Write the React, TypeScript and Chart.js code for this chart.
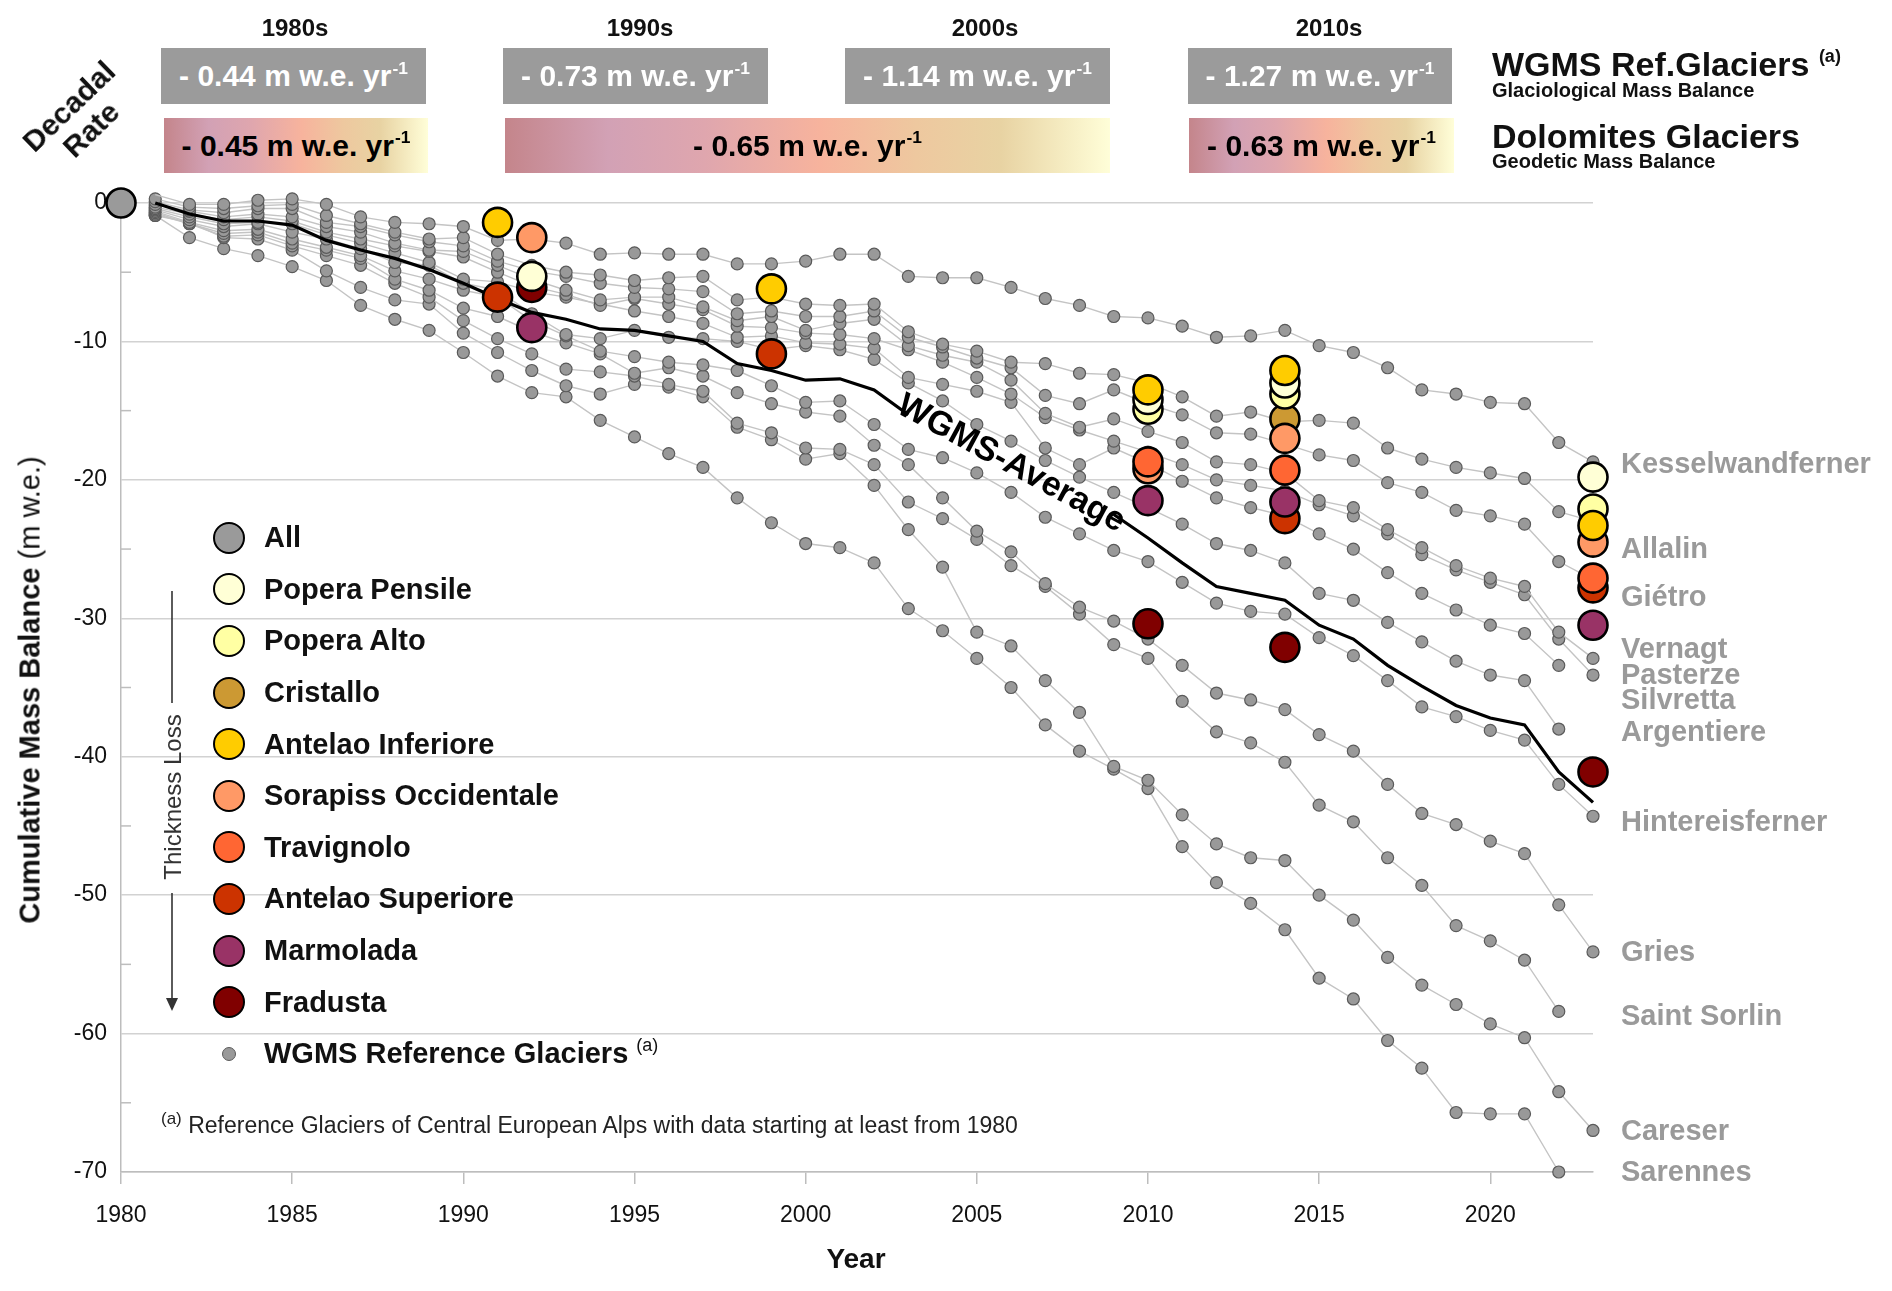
import React, { useEffect, useRef } from "react";
import { Chart, registerables } from "chart.js";

Chart.register(...registerables);

const FONT = "'Liberation Sans', Arial, Helvetica, sans-serif";

// ---------- axes ----------
const xTickValues = [1980, 1985, 1990, 1995, 2000, 2005, 2010, 2015, 2020];
const yTickValues = [-70, -65, -60, -55, -50, -45, -40, -35, -30, -25, -20, -15, -10, -5, 0];
const yMinorTickValues = [-65, -55, -45, -35, -25, -15, -5];

// ---------- WGMS reference glaciers (cumulative m w.e.) ----------
const refYears = [1981, 1982, 1983, 1984, 1985, 1986, 1987, 1988, 1989, 1990, 1991, 1992, 1993, 1994, 1995, 1996, 1997, 1998, 1999, 2000, 2001, 2002, 2003, 2004, 2005, 2006, 2007, 2008, 2009, 2010, 2011, 2012, 2013, 2014, 2015, 2016, 2017, 2018, 2019, 2020, 2021, 2022, 2023];

const kesselwandferner = [0.6, -0.1, -0.1, 0.2, 0.3, -0.1, -1.0, -1.4, -1.5, -1.7, -2.7, -2.6, -2.9, -3.7, -3.6, -3.7, -3.7, -4.4, -4.4, -4.2, -3.7, -3.7, -5.3, -5.4, -5.4, -6.1, -6.9, -7.4, -8.2, -8.3, -8.9, -9.7, -9.6, -9.2, -10.3, -10.8, -11.9, -13.5, -13.8, -14.4, -14.5, -17.3, -18.7];
const allalin = [0.3, -0.3, -0.4, -0.2, -0.1, -0.9, -1.5, -2.1, -2.6, -2.5, -3.7, -4.5, -5.0, -5.2, -5.6, -5.4, -5.3, -7.0, -6.8, -7.3, -7.4, -7.3, -9.3, -10.2, -10.7, -11.5, -11.6, -12.3, -12.4, -13.0, -14.0, -15.4, -15.1, -15.8, -15.7, -15.9, -17.7, -18.5, -19.1, -19.5, -19.9, -22.3, -23.0];
const gietro = [0.1, -0.5, -0.7, -0.4, -0.4, -1.4, -1.7, -2.3, -2.8, -3.1, -4.2, -4.9, -5.3, -5.8, -6.1, -6.2, -6.4, -8.0, -7.8, -8.2, -8.2, -7.8, -9.7, -10.4, -11.2, -11.9, -13.9, -14.5, -13.5, -14.5, -15.3, -16.6, -16.7, -17.4, -18.2, -18.6, -20.2, -20.9, -22.2, -22.6, -23.2, -25.9, -27.2];
const vernagt = [-0.1, -0.6, -1.0, -0.8, -1.0, -1.7, -2.1, -2.9, -3.4, -3.5, -4.5, -5.5, -6.3, -7.0, -6.8, -6.8, -7.5, -8.5, -8.2, -9.2, -8.7, -8.4, -10.3, -11.0, -11.5, -12.8, -15.2, -16.2, -15.6, -16.5, -17.3, -18.7, -18.9, -19.5, -21.5, -22.0, -23.6, -24.9, -26.2, -27.1, -27.7, -31.0, -32.9];
const pasterze = [-0.3, -0.8, -1.2, -1.0, -1.3, -2.1, -2.6, -3.1, -3.5, -3.9, -5.0, -6.0, -6.6, -7.4, -6.9, -7.3, -7.7, -8.9, -9.0, -9.4, -9.5, -9.8, -10.6, -11.5, -12.6, -13.8, -15.5, -16.4, -17.2, -18.0, -18.9, -20.0, -20.4, -20.8, -21.8, -22.6, -23.9, -25.4, -26.5, -27.4, -28.3, -31.5, -34.1];
const silvretta = [-0.4, -1.0, -1.5, -1.4, -1.5, -2.3, -2.9, -3.6, -4.3, -5.5, -5.7, -6.4, -6.8, -7.3, -7.8, -8.2, -8.7, -9.7, -9.6, -10.1, -10.2, -10.5, -12.6, -13.1, -13.6, -14.4, -17.7, -18.9, -17.7, -18.8, -20.1, -21.3, -22.0, -22.6, -23.9, -25.0, -26.7, -28.2, -29.4, -30.5, -31.1, -33.4, null];
const argentiere = [-0.5, -1.2, -1.7, -1.5, -2.1, -2.6, -3.3, -4.3, -4.5, -5.8, -6.3, -8.0, -9.5, -9.8, -9.2, -9.7, -9.8, -10.0, -10.6, -10.3, -10.6, -11.3, -13.0, -14.3, -16.0, -17.2, -18.6, -19.8, -20.9, -22.0, -23.2, -24.6, -25.1, -26.0, -28.2, -28.7, -30.3, -31.7, -33.1, -34.1, -34.5, -38.0, null];
const hintereisferner = [-0.6, -1.4, -2.0, -1.9, -2.6, -3.2, -3.8, -4.9, -5.5, -6.3, -6.8, -8.5, -9.6, -10.7, -11.1, -11.5, -11.7, -12.1, -13.2, -14.4, -14.3, -16.0, -17.8, -18.4, -19.5, -20.9, -22.7, -23.9, -25.1, -25.9, -27.4, -28.9, -29.5, -29.7, -31.4, -32.7, -34.5, -36.4, -37.1, -38.1, -38.8, -42.0, -44.3];
const gries = [-0.7, -1.5, -2.2, -2.1, -2.9, -3.4, -4.0, -5.5, -6.3, -7.6, -8.2, -9.3, -10.1, -10.9, -12.3, -11.9, -12.5, -13.7, -14.5, -15.1, -15.4, -17.5, -18.9, -21.3, -23.7, -25.2, -27.5, -29.2, -30.2, -31.5, -33.4, -35.4, -35.9, -36.6, -38.4, -39.6, -42.0, -44.1, -44.9, -46.1, -47.0, -50.7, -54.1];
const saintSorlin = [-0.8, -1.5, -2.4, -2.3, -3.1, -3.8, -4.5, -5.8, -6.8, -8.5, -9.8, -10.9, -12.0, -12.2, -12.5, -13.1, -13.6, -15.9, -16.6, -17.7, -17.8, -18.9, -21.6, -22.8, -24.3, -26.2, -27.7, -29.7, -31.9, -32.9, -36.0, -38.2, -39.0, -40.4, -43.5, -44.7, -47.3, -49.3, -52.2, -53.3, -54.7, -58.4, null];
const careser = [-0.9, -1.4, -2.5, -2.6, -3.4, -4.9, -6.1, -7.0, -7.3, -9.4, -10.8, -12.1, -13.2, -13.8, -13.1, -13.3, -14.0, -16.2, -17.1, -18.5, -18.1, -20.4, -23.6, -26.3, -31.0, -32.0, -34.5, -36.8, -40.7, -41.7, -44.2, -46.3, -47.3, -47.5, -50.0, -51.8, -54.5, -56.5, -57.9, -59.3, -60.3, -64.2, -67.0];
const sarennes = [-0.9, -2.5, -3.3, -3.8, -4.6, -5.6, -7.4, -8.4, -9.2, -10.8, -12.5, -13.7, -14.0, -15.7, -16.9, -18.1, -19.1, -21.3, -23.1, -24.6, -24.9, -26.0, -29.3, -30.9, -32.9, -35.0, -37.7, -39.6, -40.9, -42.3, -46.5, -49.1, -50.6, -52.5, -56.0, -57.5, -60.5, -62.5, -65.7, -65.8, -65.8, -70.0, null];

const wgmsAverage = [0.0, -0.8, -1.3, -1.3, -1.6, -2.7, -3.4, -4.0, -4.8, -5.8, -6.9, -7.9, -8.4, -9.1, -9.2, -9.6, -10.0, -11.6, -12.1, -12.8, -12.7, -13.5, -15.3, -16.2, -17.3, -18.7, -20.0, -21.2, -22.5, -24.2, -26.0, -27.7, -28.2, -28.7, -30.5, -31.5, -33.4, -34.9, -36.3, -37.2, -37.7, -41.1, -43.3];

const refSeries = [kesselwandferner, allalin, gietro, vernagt, pasterze, silvretta, argentiere, hintereisferner, gries, saintSorlin, careser, sarennes];

// right-hand glacier labels (anchored in data units)
const glacierLabelNames = ["Kesselwandferner", "Allalin", "Giétro", "Vernagt", "Pasterze", "Silvretta", "Argentiere", "Hintereisferner", "Gries", "Saint Sorlin", "Careser", "Sarennes"];
const glacierLabelValues = [-18.9, -25.1, -28.5, -32.3, -34.2, -36.0, -38.3, -44.8, -54.2, -58.8, -67.1, -70.1];

// where the "WGMS-Average" label sits on the average line
const avgLabelFrom = 2002;
const avgLabelTo = 2010;
const avgHiddenFrom = 2003;
const avgHiddenTo = 2009;

// ---------- Dolomites glaciers (geodetic) ----------
const allYears = [1980];
const allValues = [0];
const poperaPensileYears = [1992, 2010, 2014, 2023];
const poperaPensileValues = [-5.3, -14.2, -13.0, -19.8];
const poperaAltoYears = [2010, 2014, 2023];
const poperaAltoValues = [-14.9, -13.8, -22.1];
const cristalloYears = [2014];
const cristalloValues = [-15.6];
const antelaoInfYears = [1991, 1999, 2010, 2014, 2023];
const antelaoInfValues = [-1.4, -6.2, -13.5, -12.1, -23.3];
const sorapissYears = [1992, 2010, 2014, 2023];
const sorapissValues = [-2.5, -19.2, -17.0, -24.5];
const travignoloYears = [2010, 2014, 2023];
const travignoloValues = [-18.7, -19.3, -27.1];
const antelaoSupYears = [1991, 1999, 2014, 2023];
const antelaoSupValues = [-6.8, -10.9, -22.8, -27.8];
const marmoladaYears = [1992, 2010, 2014, 2023];
const marmoladaValues = [-9.0, -21.5, -21.6, -30.5];
const fradustaYears = [1992, 2010, 2014, 2023];
const fradustaValues = [-6.1, -30.4, -32.1, -41.1];

const dolomiteNames = ["All", "Popera Pensile", "Popera Alto", "Cristallo", "Antelao Inferiore", "Sorapiss Occidentale", "Travignolo", "Antelao Superiore", "Marmolada", "Fradusta"];
const dolomiteColors = ["#9a9a9a", "#FFFFD6", "#FFFFA3", "#CC9933", "#FFCC00", "#FF9966", "#FF6633", "#CC3300", "#993366", "#800000"];
const dolomiteYears = [allYears, poperaPensileYears, poperaAltoYears, cristalloYears, antelaoInfYears, sorapissYears, travignoloYears, antelaoSupYears, marmoladaYears, fradustaYears];
const dolomiteValues = [allValues, poperaPensileValues, poperaAltoValues, cristalloValues, antelaoInfValues, sorapissValues, travignoloValues, antelaoSupValues, marmoladaValues, fradustaValues];
const dolomiteDrawOrder = [0, 2, 3, 7, 1, 6, 5, 8, 4, 9];

// ---------- decadal rates ----------
const decades = ["1980s", "1990s", "2000s", "2010s"];
const wgmsRates = ["- 0.44", "- 0.73", "- 1.14", "- 1.27"];
const dolomiteRates = ["- 0.45", "- 0.65", "- 0.63"];

const annotationPlugin = {
  id: "glacierAnnotations",
  beforeDatasetsDraw(chart: any) {
    const { ctx, chartArea, scales } = chart;
    const y = scales.y;
    ctx.save();
    ctx.strokeStyle = "#bdbdbd";
    ctx.lineWidth = 1.5;
    yMinorTickValues.forEach((v) => {
      const py = y.getPixelForValue(v);
      ctx.beginPath();
      ctx.moveTo(chartArea.left, py);
      ctx.lineTo(chartArea.left + 10, py);
      ctx.stroke();
    });
    ctx.restore();
  },
  afterDatasetsDraw(chart: any) {
    const { ctx, chartArea, scales } = chart;
    const x = scales.x;
    const y = scales.y;
    ctx.save();
    ctx.font = `bold 29px ${FONT}`;
    ctx.fillStyle = "#9a9a9a";
    ctx.textAlign = "left";
    ctx.textBaseline = "middle";
    glacierLabelNames.forEach((n, i) => {
      ctx.fillText(n, chartArea.right + 28, y.getPixelForValue(glacierLabelValues[i]));
    });
    const i0 = refYears.indexOf(avgLabelFrom);
    const i1 = refYears.indexOf(avgLabelTo);
    const x0 = x.getPixelForValue(avgLabelFrom);
    const y0 = y.getPixelForValue(wgmsAverage[i0]);
    const x1 = x.getPixelForValue(avgLabelTo);
    const y1 = y.getPixelForValue(wgmsAverage[i1]);
    ctx.translate((x0 + x1) / 2, (y0 + y1) / 2);
    ctx.rotate(Math.atan2(y1 - y0, x1 - x0));
    ctx.font = `bold 34px ${FONT}`;
    ctx.fillStyle = "#000";
    ctx.textAlign = "center";
    ctx.textBaseline = "middle";
    ctx.fillText("WGMS-Average", 0, 0);
    ctx.restore();
  },
};

function buildDatasets() {
  const ds: any[] = [];
  dolomiteNames.forEach((name, k) => {
    ds.push({
      label: name,
      data: dolomiteYears[k].map((yr, i) => ({ x: yr, y: dolomiteValues[k][i] })),
      showLine: false,
      pointRadius: 14.5,
      pointBackgroundColor: dolomiteColors[k],
      pointBorderColor: "#000",
      pointBorderWidth: 2.6,
      clip: false,
      order: dolomiteDrawOrder[k],
    });
  });
  ds.push({
    label: "WGMS-Average",
    data: refYears.map((yr, i) => ({ x: yr, y: wgmsAverage[i] })),
    borderColor: "#000",
    borderWidth: 3.2,
    pointRadius: 0,
    clip: false,
    order: 50,
    segment: {
      borderColor: (c: any) =>
        c.p0.parsed.x >= avgHiddenFrom && c.p1.parsed.x <= avgHiddenTo ? "rgba(0,0,0,0)" : undefined,
    },
  });
  refSeries.forEach((vals, k) => {
    ds.push({
      label: glacierLabelNames[k],
      data: refYears.map((yr, i) => ({ x: yr, y: vals[i] })),
      borderColor: "#c4c4c4",
      borderWidth: 1.4,
      pointRadius: 6,
      pointBackgroundColor: "#999999",
      pointBorderColor: "#5a5a5a",
      pointBorderWidth: 1.2,
      clip: false,
      order: 100 + k,
    });
  });
  return ds;
}

const sup = (t: string, size = "0.58em") => (
  <span style={{ fontSize: size, position: "relative", top: "-0.7em", marginLeft: 1 }}>{t}</span>
);

const gradient =
  "linear-gradient(to right, #c4858b 0%, #d2a1b5 17%, #dfa6ae 33%, #f7b39d 52%, #eec89f 68%, #e8d3a3 82%, #fffed8 100%)";

export default function App() {
  const canvasRef = useRef<HTMLCanvasElement | null>(null);

  useEffect(() => {
    const canvas = canvasRef.current;
    if (!canvas) return;
    const chart = new Chart(canvas, {
      type: "line",
      data: { datasets: buildDatasets() },
      plugins: [annotationPlugin],
      options: {
        responsive: false,
        maintainAspectRatio: false,
        animation: false,
        devicePixelRatio: 1,
        layout: { padding: { left: 0, top: 203, right: 299, bottom: 0 } },
        plugins: { legend: { display: false }, tooltip: { enabled: false } },
        scales: {
          x: {
            type: "linear",
            min: 1980,
            max: 2023,
            afterBuildTicks: (s: any) => {
              s.ticks = xTickValues.map((v) => ({ value: v }));
            },
            afterFit: (s: any) => {
              s.height = 119;
            },
            ticks: {
              callback: (v: any) => String(v),
              font: { family: FONT, size: 23 },
              color: "#111",
              padding: 18,
              maxRotation: 0,
            },
            grid: { drawOnChartArea: false, drawTicks: true, tickLength: 12, color: "#bdbdbd", lineWidth: 1.5 },
            border: { display: true, color: "#bdbdbd", width: 1.5 },
          },
          y: {
            type: "linear",
            min: -70,
            max: 0,
            afterBuildTicks: (s: any) => {
              s.ticks = yTickValues.map((v) => ({ value: v }));
            },
            afterFit: (s: any) => {
              s.width = 121;
            },
            ticks: {
              callback: (v: any) => (Number(v) % 10 === 0 ? String(v) : ""),
              font: { family: FONT, size: 23 },
              color: "#111",
              padding: 14,
            },
            grid: {
              drawTicks: false,
              lineWidth: 1.5,
              color: (c: any) => (c.tick && c.tick.value % 10 === 0 ? "#d2d2d2" : "rgba(0,0,0,0)"),
            },
            border: { display: true, color: "#bdbdbd", width: 1.5 },
          },
        },
      } as any,
    });
    return () => chart.destroy();
  }, []);

  const grayBoxes = [
    { left: 161, right: 426 },
    { left: 503, right: 768 },
    { left: 845, right: 1110 },
    { left: 1188, right: 1452 },
  ];
  const gradBoxes = [
    { left: 164, right: 428 },
    { left: 505, right: 1110 },
    { left: 1189, right: 1454 },
  ];
  const decadeCenters = [295, 640, 985, 1329];

  return (
    <div
      style={{
        position: "fixed",
        left: 0,
        top: 0,
        width: 1892,
        height: 1291,
        background: "#fff",
        overflow: "hidden",
        fontFamily: FONT,
        color: "#111",
      }}
    >
      <canvas
        ref={canvasRef}
        width={1892}
        height={1291}
        style={{ position: "absolute", left: 0, top: 0, width: 1892, height: 1291 }}
      />

      {/* decade headers */}
      {decades.map((d, i) => (
        <div
          key={d}
          style={{
            position: "absolute",
            left: decadeCenters[i],
            top: 28,
            transform: "translate(-50%,-50%)",
            fontWeight: "bold",
            fontSize: 24,
            whiteSpace: "nowrap",
          }}
        >
          {d}
        </div>
      ))}

      {/* WGMS decadal rate boxes */}
      {grayBoxes.map((b, i) => (
        <div
          key={"g" + i}
          style={{
            position: "absolute",
            left: b.left,
            top: 48,
            width: b.right - b.left,
            height: 56,
            background: "#9b9b9b",
            color: "#fff",
            display: "flex",
            alignItems: "center",
            justifyContent: "center",
            fontWeight: "bold",
            fontSize: 30,
            whiteSpace: "nowrap",
          }}
        >
          <span>
            {wgmsRates[i]} m w.e. yr{sup("-1")}
          </span>
        </div>
      ))}

      {/* Dolomites decadal rate boxes */}
      {gradBoxes.map((b, i) => (
        <div
          key={"d" + i}
          style={{
            position: "absolute",
            left: b.left,
            top: 118,
            width: b.right - b.left,
            height: 55,
            background: gradient,
            color: "#000",
            display: "flex",
            alignItems: "center",
            justifyContent: "center",
            fontWeight: "bold",
            fontSize: 30,
            whiteSpace: "nowrap",
          }}
        >
          <span>
            {dolomiteRates[i]} m w.e. yr{sup("-1")}
          </span>
        </div>
      ))}

      {/* Decadal Rate */}
      <div
        style={{
          position: "absolute",
          left: 80,
          top: 118,
          transform: "translate(-50%,-50%) rotate(-44deg)",
          fontWeight: "bold",
          fontSize: 30,
          lineHeight: "32px",
          textAlign: "center",
          whiteSpace: "nowrap",
        }}
      >
        Decadal
        <br />
        Rate
      </div>

      {/* right headers */}
      <div style={{ position: "absolute", left: 1492, top: 47, fontWeight: "bold", fontSize: 34, lineHeight: "34px", whiteSpace: "nowrap" }}>
        WGMS Ref.Glaciers <span style={{ fontSize: 18, position: "relative", top: -14 }}>(a)</span>
      </div>
      <div style={{ position: "absolute", left: 1492, top: 80, fontWeight: "bold", fontSize: 20, lineHeight: "20px", whiteSpace: "nowrap" }}>
        Glaciological Mass Balance
      </div>
      <div style={{ position: "absolute", left: 1492, top: 119, fontWeight: "bold", fontSize: 34, lineHeight: "34px", whiteSpace: "nowrap" }}>
        Dolomites Glaciers
      </div>
      <div style={{ position: "absolute", left: 1492, top: 151, fontWeight: "bold", fontSize: 20, lineHeight: "20px", whiteSpace: "nowrap" }}>
        Geodetic Mass Balance
      </div>

      {/* axis titles */}
      <div
        style={{
          position: "absolute",
          left: 30,
          top: 690,
          transform: "translate(-50%,-50%) rotate(-90deg)",
          fontSize: 29,
          whiteSpace: "nowrap",
        }}
      >
        <b>Cumulative Mass Balance</b> (m w.e.)
      </div>
      <div
        style={{
          position: "absolute",
          left: 856,
          top: 1259,
          transform: "translate(-50%,-50%)",
          fontSize: 28,
          fontWeight: "bold",
        }}
      >
        Year
      </div>

      {/* legend */}
      <div style={{ position: "absolute", left: 213, top: 512 }}>
        {dolomiteNames.map((n, i) => (
          <div key={n} style={{ height: 51.6, display: "flex", alignItems: "center" }}>
            <div
              style={{
                width: 32,
                height: 32,
                boxSizing: "border-box",
                borderRadius: "50%",
                border: "2.6px solid #000",
                background: dolomiteColors[i],
              }}
            />
            <div style={{ marginLeft: 19, fontWeight: "bold", fontSize: 29, whiteSpace: "nowrap" }}>{n}</div>
          </div>
        ))}
        <div style={{ height: 51.6, display: "flex", alignItems: "center" }}>
          <div style={{ width: 32, display: "flex", justifyContent: "center" }}>
            <div
              style={{
                width: 14,
                height: 14,
                boxSizing: "border-box",
                borderRadius: "50%",
                border: "1.2px solid #5a5a5a",
                background: "#999",
              }}
            />
          </div>
          <div style={{ marginLeft: 19, fontWeight: "bold", fontSize: 29, whiteSpace: "nowrap" }}>
            WGMS Reference Glaciers <span style={{ fontSize: 18, fontWeight: "normal", position: "relative", top: -12 }}>(a)</span>
          </div>
        </div>
      </div>

      {/* thickness loss arrow */}
      <svg width={1892} height={1291} style={{ position: "absolute", left: 0, top: 0, pointerEvents: "none" }}>
        <line x1={172} y1={591} x2={172} y2={703} stroke="#333" strokeWidth={1.6} />
        <line x1={172} y1={893} x2={172} y2={1000} stroke="#333" strokeWidth={1.6} />
        <polygon points="166,998 178,998 172,1011" fill="#333" />
        <text
          x={172}
          y={797}
          transform="rotate(-90 172 797)"
          textAnchor="middle"
          dominantBaseline="central"
          fontFamily={FONT}
          fontSize={24}
          fill="#333"
        >
          Thickness Loss
        </text>
      </svg>

      {/* footnote */}
      <div style={{ position: "absolute", left: 161, top: 1111, fontSize: 23, lineHeight: "28px", whiteSpace: "nowrap", color: "#222" }}>
        <span style={{ fontSize: 17, position: "relative", top: -9 }}>(a)</span> Reference Glaciers of Central European Alps with data starting at least from 1980
      </div>
    </div>
  );
}
